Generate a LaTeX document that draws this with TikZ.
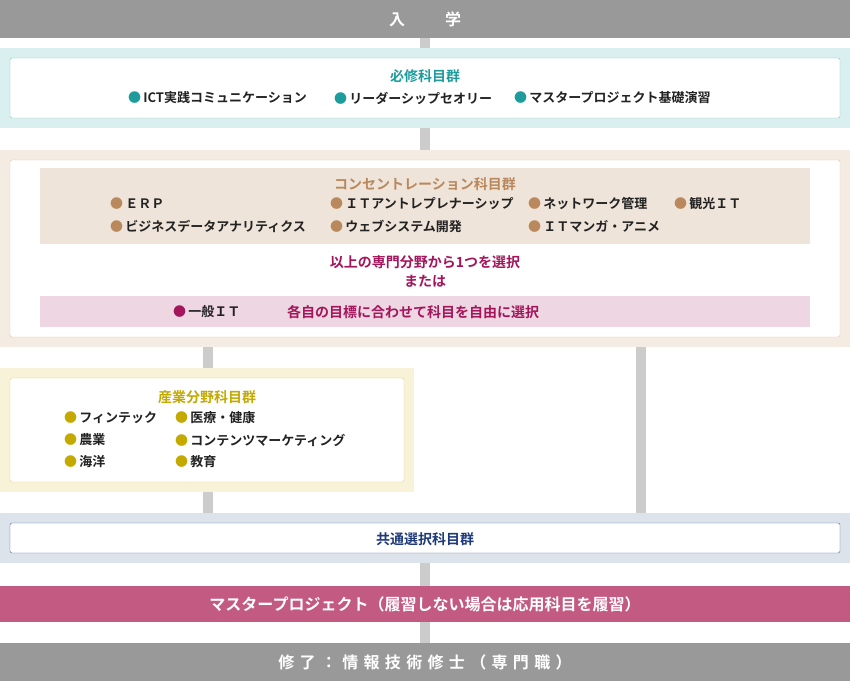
\documentclass[tikz,border=0pt]{standalone}
\usepackage{fontspec}
\setmainfont{Noto Sans CJK JP}[BoldFont={Noto Sans CJK JP Bold}]
\definecolor{gbar}{HTML}{999999}
\definecolor{conn}{HTML}{CCCCCC}
\definecolor{teal1}{HTML}{1E9C9C}
\definecolor{tealbg}{HTML}{DAEFEF}
\definecolor{brn}{HTML}{B9885C}
\definecolor{brnbg}{HTML}{F4EBE2}
\definecolor{brnband}{HTML}{EFE4D9}
\definecolor{mag}{HTML}{A3165C}
\definecolor{pinkband}{HTML}{EED6E2}
\definecolor{yel}{HTML}{C3A900}
\definecolor{yelbg}{HTML}{F7F2D8}
\definecolor{yelbd}{HTML}{E3D27A}
\definecolor{blubg}{HTML}{DCE3EB}
\definecolor{navy}{HTML}{1E3A7A}
\definecolor{mbar}{HTML}{C25A82}
\definecolor{txt}{HTML}{222222}
\tikzset{
 bar/.style={draw=none,fill=#1},
 lbl/.style={font=\bfseries\fontsize{13}{15}\selectfont,text=txt,inner sep=0pt,anchor=west},
 ttl/.style={font=\bfseries\fontsize{14}{16}\selectfont,inner sep=0pt},
 bartxt/.style={font=\bfseries\fontsize{16}{18}\selectfont,text=white,inner sep=0pt},
}
\newcommand{\bul}[1]{\textcolor{#1}{●}\,}
\begin{document}
\begin{tikzpicture}[x=1pt,y=-1pt]
\useasboundingbox (0,0) rectangle (850,681);
% connectors
\fill[conn] (420,38) rectangle (430,48);
\fill[conn] (420,128) rectangle (430,150);
\fill[conn] (203,347) rectangle (213,368);
\fill[conn] (636,347) rectangle (646,513);
\fill[conn] (203,492) rectangle (213,513);
\fill[conn] (420,563) rectangle (430,586);
\fill[conn] (420,622) rectangle (430,643);
% top bar
\fill[gbar] (0,0) rectangle (850,38);
\node[bartxt] (in) at (425,19) {入\hspace{2.5em}学};
% section 1
\fill[tealbg] (0,48) rectangle (850,128);
\draw[teal1!60,fill=white,rounded corners=2pt] (10,58) rectangle (840,118);
\node[ttl,text=teal1] (t1) at (425,76) {必修科目群};
\node[lbl] (a1) at (128,98) {\bul{teal1}ICT実践コミュニケーション};
\node[lbl] (a2) at (334,98) {\bul{teal1}リーダーシップセオリー};
\node[lbl] (a3) at (514,98) {\bul{teal1}マスタープロジェクト基礎演習};
% section 2
\fill[brnbg] (0,150) rectangle (850,347);
\draw[brn!50,fill=white,rounded corners=2pt] (10,160) rectangle (840,337);
\fill[brnband] (40,168) rectangle (810,244);
\node[ttl,text=brn] (t2) at (425,184) {コンセントレーション科目群};
\node[lbl] (b1) at (110,204) {\bul{brn}ＥＲＰ};
\node[lbl] (b2) at (330,204) {\bul{brn}ＩＴアントレプレナーシップ};
\node[lbl] (b3) at (528,204) {\bul{brn}ネットワーク管理};
\node[lbl] (b4) at (674,204) {\bul{brn}観光ＩＴ};
\node[lbl] (b5) at (110,226) {\bul{brn}ビジネスデータアナリティクス};
\node[lbl] (b6) at (330,226) {\bul{brn}ウェブシステム開発};
\node[lbl] (b7) at (528,226) {\bul{brn}ＩＴマンガ・アニメ};
\node[ttl,text=mag] (s1) at (425,262) {以上の専門分野から1つを選択};
\node[ttl,text=mag] (s2) at (425,281) {または};
\fill[pinkband] (40,296) rectangle (810,327);
\node[lbl] (c1) at (173,312) {\bul{mag}一般ＩＴ};
\node[ttl,text=mag,anchor=west] (c2) at (287,312) {各自の目標に合わせて科目を自由に選択};
% section 3
\fill[yelbg] (0,368) rectangle (414,492);
\draw[yelbd,fill=white,rounded corners=2pt] (10,378) rectangle (404,482);
\node[ttl,text=yel] (t3) at (207,397) {産業分野科目群};
\node[lbl] (d1) at (64,418) {\bul{yel}フィンテック};
\node[lbl] (d2) at (64,440) {\bul{yel}農業};
\node[lbl] (d3) at (64,462) {\bul{yel}海洋};
\node[lbl] (d4) at (175,418) {\bul{yel}医療・健康};
\node[lbl] (d5) at (175,440) {\bul{yel}コンテンツマーケティング};
\node[lbl] (d6) at (175,462) {\bul{yel}教育};
% section 4
\fill[blubg] (0,513) rectangle (850,563);
\draw[navy!80,fill=white,rounded corners=2pt] (10,523) rectangle (840,553);
\node[ttl,text=navy] (t4) at (425,539) {共通選択科目群};
% master bar
\fill[mbar] (0,586) rectangle (850,622);
\node[bartxt] (mp) at (425,604) {マスタープロジェクト（履習しない場合は応用科目を履習）};
% bottom bar
\fill[gbar] (0,643) rectangle (850,681);
\node[bartxt] (end) at (425,662) {修\,\,了\,\,：\,\,情\,\,報\,\,技\,\,術\,\,修\,\,士\,\,（\,\,専\,\,門\,\,職\,\,）};
\end{tikzpicture}
\end{document}
